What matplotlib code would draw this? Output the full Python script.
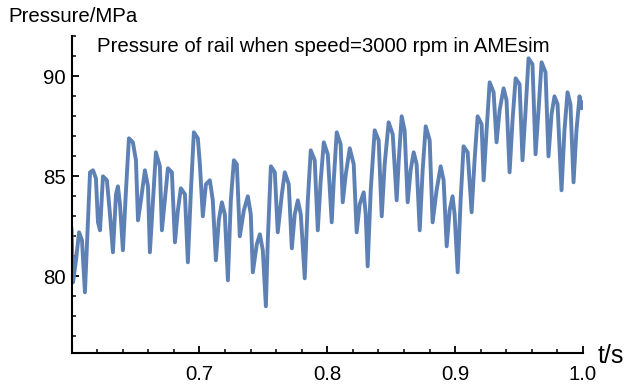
import matplotlib
matplotlib.use("Agg")
import matplotlib.pyplot as plt
from matplotlib.ticker import MultipleLocator, FixedLocator

plt.rcParams['font.family'] = ['Liberation Sans', 'DejaVu Sans']

# time (s)
t = [0.6000, 0.6012, 0.6035, 0.6059, 0.6082, 0.6105, 0.6129, 0.6145, 0.6168, 0.6191,
     0.6207, 0.6223, 0.6246, 0.6277, 0.6301, 0.6324, 0.6348, 0.6363, 0.6379, 0.6402,
     0.6426, 0.6449, 0.6480, 0.6504, 0.6520, 0.6543, 0.6574, 0.6598, 0.6613, 0.6637,
     0.6660, 0.6691, 0.6707, 0.6730, 0.6754, 0.6785, 0.6809, 0.6832, 0.6855, 0.6887,
     0.6910, 0.6934, 0.6957, 0.6988, 0.7004, 0.7027, 0.7051, 0.7082, 0.7105, 0.7129,
     0.7152, 0.7176, 0.7199, 0.7223, 0.7246, 0.7270, 0.7293, 0.7316, 0.7348, 0.7379,
     0.7402, 0.7418, 0.7449, 0.7473, 0.7496, 0.7520, 0.7535, 0.7559, 0.7590, 0.7613,
     0.7645, 0.7668, 0.7699, 0.7723, 0.7746, 0.7770, 0.7793, 0.7824, 0.7848, 0.7871,
     0.7902, 0.7926, 0.7949, 0.7973, 0.8004, 0.8035, 0.8051, 0.8074, 0.8105, 0.8121,
     0.8145, 0.8176, 0.8207, 0.8230, 0.8254, 0.8285, 0.8301, 0.8316, 0.8340, 0.8371,
     0.8402, 0.8426, 0.8449, 0.8480, 0.8512, 0.8543, 0.8559, 0.8582, 0.8605, 0.8629,
     0.8652, 0.8676, 0.8699, 0.8723, 0.8746, 0.8770, 0.8801, 0.8824, 0.8855, 0.8887,
     0.8910, 0.8934, 0.8957, 0.8980, 0.8996, 0.9020, 0.9043, 0.9066, 0.9098, 0.9129,
     0.9152, 0.9176, 0.9207, 0.9223, 0.9246, 0.9270, 0.9301, 0.9324, 0.9348, 0.9379,
     0.9402, 0.9426, 0.9449, 0.9473, 0.9504, 0.9527, 0.9551, 0.9574, 0.9605, 0.9629,
     0.9652, 0.9676, 0.9707, 0.9730, 0.9754, 0.9777, 0.9801, 0.9832, 0.9855, 0.9879,
     0.9902, 0.9926, 0.9949, 0.9973, 0.9988, 0.9996]

# rail pressure (MPa)
pressure = [82.4, 79.7, 80.8, 82.2, 81.8, 79.2, 82.8, 85.2, 85.3, 84.9,
            82.7, 82.3, 85.0, 84.8, 83.1, 81.2, 84.1, 84.5, 83.6, 81.3,
            84.3, 86.9, 86.7, 85.8, 82.8, 83.8, 85.3, 84.5, 81.2, 83.8,
            86.2, 85.5, 82.3, 83.8, 85.4, 85.2, 81.7, 83.3, 84.4, 84.1,
            80.7, 84.3, 87.2, 86.9, 85.6, 83.0, 84.6, 84.8, 83.8, 80.8,
            82.8, 83.7, 83.1, 79.8, 83.8, 85.8, 85.6, 82.0, 83.3, 84.0,
            83.1, 80.2, 81.6, 82.1, 81.3, 78.5, 81.8, 85.5, 85.2, 82.2,
            84.1, 85.2, 84.6, 81.4, 83.1, 83.8, 83.1, 79.9, 83.8, 86.3,
            85.8, 82.3, 84.8, 86.7, 86.1, 82.7, 84.8, 87.2, 86.6, 83.7,
            85.1, 86.4, 85.6, 82.2, 83.6, 84.2, 83.1, 80.5, 84.3, 87.3,
            86.8, 83.0, 85.6, 87.7, 87.1, 83.8, 85.8, 88.0, 87.3, 83.7,
            85.3, 86.2, 85.6, 82.3, 85.3, 87.5, 86.8, 82.7, 84.3, 85.5,
            84.8, 81.5, 83.3, 84.0, 83.1, 80.2, 83.8, 86.5, 86.2, 83.2,
            85.8, 88.0, 87.6, 84.8, 87.3, 89.7, 89.2, 86.7, 88.3, 89.4,
            88.8, 85.2, 87.8, 89.9, 89.6, 85.8, 88.3, 90.9, 90.6, 86.1,
            88.3, 90.7, 90.2, 86.0, 88.1, 89.0, 88.6, 84.3, 87.3, 89.2,
            88.6, 84.7, 87.3, 89.0, 88.4, 88.7]

x_major = [0.7, 0.8, 0.9, 1.0]
y_major = [80, 85, 90]
x_label = "t/s"
y_label = "Pressure/MPa"
title = "Pressure of rail when speed=3000 rpm in AMEsim"

fig = plt.figure(figsize=(6.27, 3.86), dpi=100)
ax = fig.add_axes([71.5 / 627, 1 - 352.7 / 386, (583 - 71.5) / 627, (352.7 - 36.3) / 386])

ax.plot(t, pressure, color='#5E81B5', lw=2.8, solid_joinstyle='round', solid_capstyle='round')

ax.set_xlim(0.6, 1.0)
ax.set_ylim(76.18, 92.0)
for s in ['top', 'right']:
    ax.spines[s].set_visible(False)
for s in ['left', 'bottom']:
    ax.spines[s].set_linewidth(1.5)
    ax.spines[s].set_color('black')

ax.xaxis.set_major_locator(FixedLocator(x_major))
ax.yaxis.set_major_locator(FixedLocator(y_major))
ax.xaxis.set_minor_locator(MultipleLocator(0.02))
ax.yaxis.set_minor_locator(MultipleLocator(1))
ax.set_xticklabels([f"{v:.1f}" for v in x_major])
ax.set_yticklabels([str(v) for v in y_major])
ax.tick_params(which='major', direction='in', length=5, width=1.3, labelsize=14.7, pad=9)
ax.tick_params(axis='y', which='major', pad=4)
ax.tick_params(which='minor', direction='in', length=3, width=1.1)

fig.text(8 / 627, 1 - 22 / 386, y_label, fontsize=14.7, va='baseline', ha='left')
fig.text(97 / 627, 1 - 52 / 386, title, fontsize=14.7, va='baseline', ha='left')
fig.text(598 / 627, 1 - 363 / 386, x_label, fontsize=18, va='baseline', ha='left')

fig.savefig("out.png", dpi=100)
